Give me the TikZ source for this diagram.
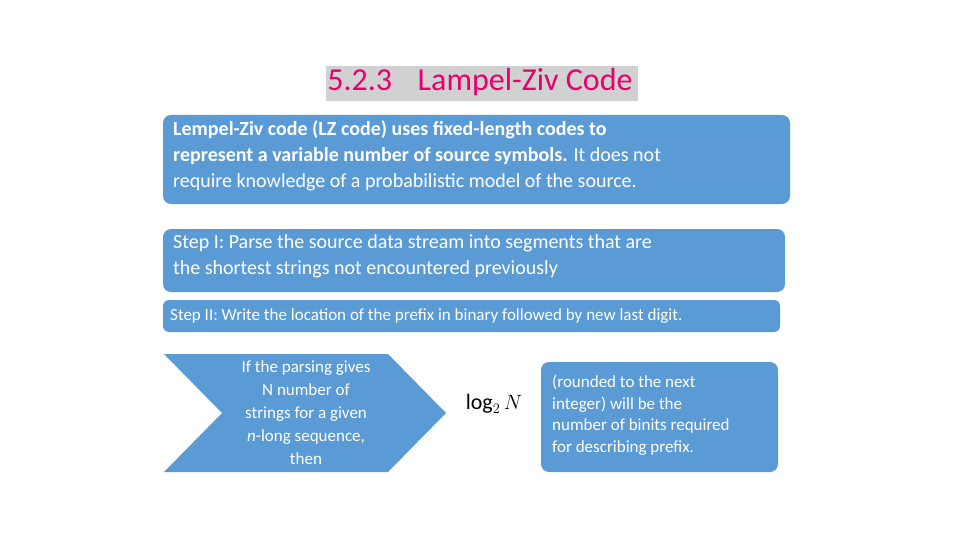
\documentclass[tikz,border=0pt]{standalone}
\usepackage{fontspec}
\setmainfont{Carlito}
\usetikzlibrary{shadows}
\definecolor{boxblue}{HTML}{5B9BD5}
\definecolor{titlepink}{HTML}{E8006F}
\begin{document}
\begin{tikzpicture}[x=1pt,y=-1pt,
  bx/.style={fill=boxblue,draw=none,rounded corners=8pt},
  txt/.style={text=white,anchor=north west,align=left,inner sep=0pt}]
\useasboundingbox (0,0) rectangle (960,540);
\node[text=titlepink,font=\fontsize{32}{36}\selectfont,
  drop shadow={shadow xshift=1.5pt,shadow yshift=-1.5pt,fill=gray!60,opacity=0.6}] (title) at (480,82) {5.2.3\hspace{0.8em}Lampel-Ziv Code};
\fill[bx] (163,115) rectangle (790,204);
\node[txt,font=\fontsize{20}{26}\selectfont] (t1) at (173,120) {\textbf{Lempel-Ziv code (LZ code) uses fixed-length codes to}\\\textbf{represent a variable number of source symbols.} It does not\\require knowledge of a probabilistic model of the source.};
\fill[bx] (163,229) rectangle (785,292);
\node[txt,font=\fontsize{20}{26}\selectfont] (t2) at (173,234) {Step I: Parse the source data stream into segments that are\\the shortest strings not encountered previously};
\fill[bx,rounded corners=6pt] (163,300) rectangle (780,332);
\node[txt,font=\fontsize{17}{20}\selectfont,anchor=west] (t3) at (170,316.5) {Step II: Write the location of the prefix in binary followed by new last digit.};
\fill[boxblue] (164,354) -- (388,354) -- (446,413) -- (388,472) -- (164,472) -- (222,413) -- cycle;
\node[text=white,align=center,font=\fontsize{17}{23}\selectfont] (t4) at (306,413) {If the parsing gives\\N number of\\strings for a given\\\textit{n}-long sequence,\\then};
\node[font=\fontsize{22}{24}\selectfont] (log) at (494,404) {$\log_2 N$};
\fill[bx] (541,362) rectangle (778,472);
\node[txt,font=\fontsize{17}{21.5}\selectfont] (t5) at (552,375) {(rounded to the next\\integer) will be the\\number of binits required\\for describing prefix.};
\end{tikzpicture}
\end{document}
